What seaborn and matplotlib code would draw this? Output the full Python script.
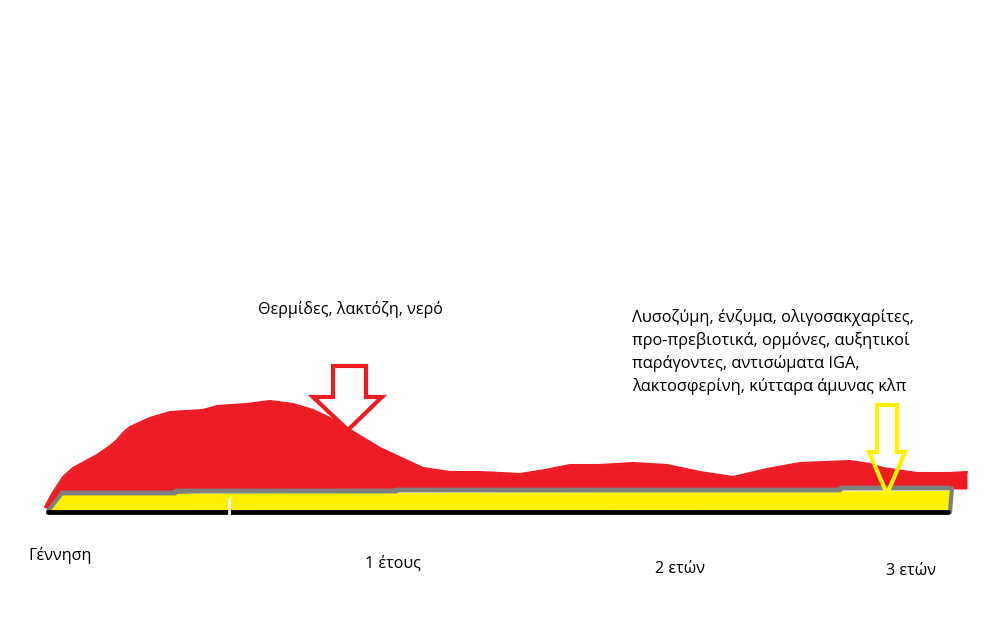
import numpy as np
import pandas as pd
import seaborn as sns
import matplotlib.pyplot as plt
from matplotlib.patches import Polygon

# red "milk" profile (pixel-like units, y grows downward)
red_x = [45, 52, 63, 73, 97, 110, 117, 124, 130, 150, 170, 203, 217, 247, 270, 293, 313,
         330, 347, 380, 423, 450, 480, 520, 545, 570, 600, 633, 667, 700, 733, 767,
         800, 850, 870, 883, 917, 950, 967]
red_top = [507, 494, 477, 468, 455, 446, 440, 432, 427, 418, 412, 410, 406, 404, 401, 404, 410,
           418, 428, 448, 468, 472, 472, 474, 470, 465, 465, 463, 465, 472, 477, 469,
           463, 461, 464, 468, 473, 473, 472]

# gray base line and yellow band
gray_x = [60, 175, 176, 396, 397, 840, 841, 950]
gray_y = [493, 493, 491, 491, 490, 490, 488, 488]

tick_labels = ["Γέννηση", "1 έτους", "2 ετών", "3 ετών"]
tick_x = [28, 365, 655, 886]
tick_y = [555, 564, 569, 571]

label_left = "Θερμίδες, λακτόζη, νερό"
label_right = ["Λυσοζύμη, ένζυμα, ολιγοσακχαρίτες,",
               "προ-πρεβιοτικά, ορμόνες, αυξητικοί",
               "παράγοντες, αντισώματα IGA,",
               "λακτοσφερίνη, κύτταρα άμυνας κλπ"]

sns.set_theme(style="white")
plt.rcParams['font.family'] = ['Open Sans', 'DejaVu Sans']

fig = plt.figure(figsize=(10.08, 6.3), dpi=100)
ax = fig.add_axes([0, 0, 1, 1])
ax.set_xlim(0, 1008)
ax.set_ylim(630, 0)
ax.axis("off")

RED = "#ed1c24"
YELLOW = "#fff200"
GRAY = "#7f7f7f"

df = pd.DataFrame({"x": red_x, "top": red_top})
base = np.interp(df["x"], gray_x, gray_y)
base = np.where(df["x"] < 62, np.maximum(df["top"], 507), base)
ax.fill_between(df["x"], df["top"], base + 1, color=RED, lw=0, zorder=2)
sns.lineplot(data=df, x="x", y="top", color=RED, lw=1.5, ax=ax, zorder=2)

# yellow band with slanted left end
ax.add_patch(Polygon([(48, 511), (62, 494), (950, 491), (950, 510)],
                     closed=True, color=YELLOW, lw=0, zorder=3))
ax.plot(gray_x, gray_y, color=GRAY, lw=3.5, solid_capstyle="butt", zorder=4)
ax.plot([48, 62], [511, 493], color=GRAY, lw=3, zorder=4)
ax.plot([952, 950], [488, 512], color=GRAY, lw=3, zorder=4)
ax.plot([48, 948], [512, 512], color="black", lw=3.5, zorder=4)
ax.plot([229, 229], [499, 514], color="white", lw=2, zorder=5)

# arrows (outlined)
red_arrow = [(333, 366), (366, 366), (366, 397), (382, 397), (348, 430),
             (313, 397), (333, 397)]
ax.add_patch(Polygon(red_arrow, closed=True, facecolor="white", edgecolor=RED,
                     lw=3, zorder=5))
yellow_arrow = [(877, 405), (897, 405), (897, 452), (905, 452), (887, 494),
                (869, 452), (877, 452)]
ax.add_patch(Polygon(yellow_arrow, closed=True, facecolor="none", edgecolor=YELLOW,
                     lw=3, zorder=5))

ax.text(258, 310, label_left, fontsize=11.6, ha="left", va="center", color="black")
for i, line in enumerate(label_right):
    ax.text(632, 318 + i * 22.7, line, fontsize=11.8, ha="left", va="center",
            color="black")
for lab, x, y in zip(tick_labels, tick_x, tick_y):
    ax.text(x, y, lab, fontsize=11.6, ha="left", va="center", color="black")

fig.savefig("out.png", dpi=100)
